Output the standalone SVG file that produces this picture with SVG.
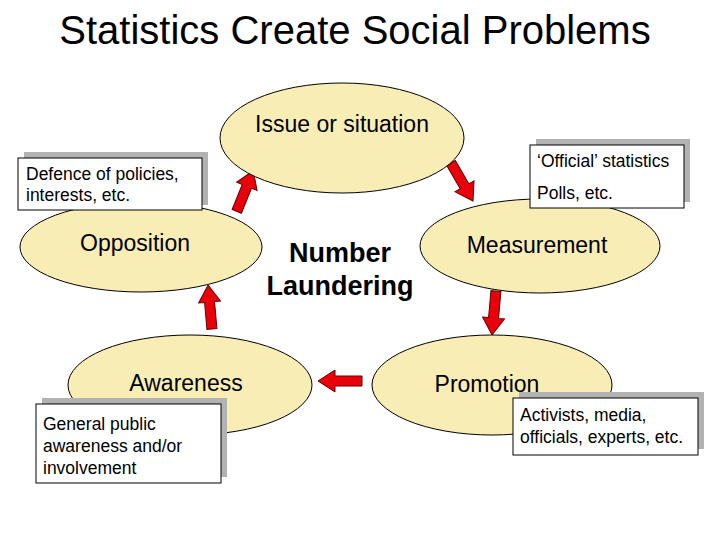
<svg xmlns="http://www.w3.org/2000/svg" xmlns:xlink="http://www.w3.org/1999/xlink" width="720" height="540" viewBox="0 0 720 540">
<style>
text{font-family:"Liberation Sans",Arial,sans-serif;fill:#000}
.el{fill:#f8edb5;stroke:#000;stroke-width:1}
.box{fill:#fff;stroke:#000;stroke-width:1}
.sh{fill:#b2b2b2}
.arr{fill:#e8000b;stroke:#600;stroke-width:1}
.c{font-size:17.5px}
.e{font-size:23px}
</style>
<defs>
<path id="ar" class="arr" d="M0,-22 L11,-5 L5,-5 L5,22 L-5,22 L-5,-5 L-11,-5 Z"/>
</defs>
<rect width="720" height="540" fill="#fff"/>
<text x="355" y="44" font-size="40" text-anchor="middle">Statistics Create Social Problems</text>
<g id="connectors">
<use xlink:href="#ar" transform="translate(245,191) rotate(22)"/>
<use xlink:href="#ar" transform="translate(462,182) rotate(150)"/>
<use xlink:href="#ar" transform="translate(494,313) rotate(185)"/>
<use xlink:href="#ar" transform="translate(340,381) rotate(-90)"/>
<use xlink:href="#ar" transform="translate(210,307) rotate(-5)"/>
</g>
<g id="issue"><ellipse class="el" cx="342" cy="138" rx="122" ry="55"/><text class="e" x="342" y="132" font-size="20" text-anchor="middle">Issue or situation</text></g>
<g id="opposition"><ellipse class="el" cx="141" cy="247" rx="121" ry="45"/><text class="e" x="135" y="251" font-size="20" text-anchor="middle">Opposition</text></g>
<g id="measurement"><ellipse class="el" cx="540" cy="246" rx="120" ry="47"/><text class="e" x="537" y="253" font-size="20" text-anchor="middle">Measurement</text></g>
<g id="awareness"><ellipse class="el" cx="190" cy="385" rx="122" ry="50"/><text class="e" x="186" y="391" font-size="20" text-anchor="middle">Awareness</text></g>
<g id="promotion"><ellipse class="el" cx="492" cy="385" rx="120" ry="50"/><text class="e" x="487" y="392" font-size="20" text-anchor="middle">Promotion</text></g>
<g id="center"><text x="340" y="262" font-size="27" font-weight="bold" text-anchor="middle">Number</text><text x="340" y="295" font-size="27" font-weight="bold" text-anchor="middle">Laundering</text></g>
<g id="defence"><rect class="sh" x="24" y="152" width="184" height="53"/><rect class="box" x="18" y="158" width="184" height="52"/><text class="c" x="26" y="180">Defence of policies,</text><text class="c" x="26" y="201">interests, etc.</text></g>
<g id="official"><rect class="sh" x="536" y="139" width="154" height="63"/><rect class="box" x="530" y="145" width="154" height="63"/><text class="c" x="537" y="167">‘Official’ statistics</text><text class="c" x="537" y="199">Polls, etc.</text></g>
<g id="general"><rect class="sh" x="42" y="398" width="185" height="79"/><rect class="box" x="36" y="404" width="185" height="79"/><text class="c" x="43" y="430">General public</text><text class="c" x="43" y="452">awareness and/or</text><text class="c" x="43" y="474">involvement</text></g>
<g id="activists"><rect class="sh" x="519" y="392" width="185" height="57"/><rect class="box" x="513" y="398" width="185" height="57"/><text class="c" x="520" y="421">Activists, media,</text><text class="c" x="520" y="443">officials, experts, etc.</text></g>
</svg>
